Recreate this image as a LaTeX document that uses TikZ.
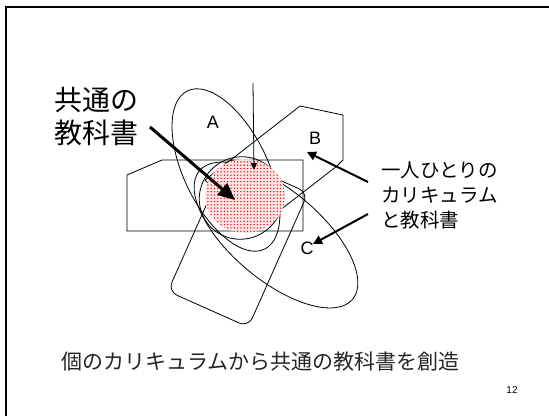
\documentclass[tikz,border=0pt]{standalone}
\usepackage{fontspec}
\setmainfont{Liberation Sans}
\newfontfamily\jp{Noto Sans CJK JP}
\usetikzlibrary{patterns,arrows.meta}
\pgfdeclarepatternformonly{reddots}{\pgfqpoint{-1pt}{-1pt}}{\pgfqpoint{1pt}{1pt}}{\pgfqpoint{3.3pt}{3.3pt}}%
  {\pgfpathcircle{\pgfqpoint{0pt}{0pt}}{.75pt}\pgfusepath{fill}}
\tikzstyle{outline}=[draw, line width=.8pt]
\tikzstyle{lbl}=[draw=none, inner sep=0pt, font=\fontsize{18}{18}\selectfont]
\tikzstyle{jlbl}=[draw=none, inner sep=0pt, align=left]
\tikzstyle{pointer}=[line width=2pt, -{Triangle[length=9pt,width=9pt]}]

\begin{document}
\begin{tikzpicture}[x=1pt, y=-1pt]
\useasboundingbox (0,0) rectangle (549,416);
\draw[line width=2pt] (6,416) -- (6,7) -- (549,7);

% the curricula
\draw[outline, rotate around={-64:(226,170)}] (226,170) ellipse (88 and 42);
\draw[outline, rotate around={-40:(276,235)}] (276,235) ellipse (100 and 45);
\draw[outline] (127,175) -- (162,160) -- (303,160) -- (303,231) -- (127,231) -- cycle;
\draw[outline] (300,106) -- (343,115) -- (343,160) -- (337,166) -- (253,231) -- (205,180) -- cycle;
\node[outline, rounded corners=10pt, minimum width=88pt, minimum height=147pt, rotate=-24] (slab) at (238,242) {};
\draw[outline, rotate around={30:(241,198)}] (241,198) ellipse (42 and 41);

% common core
\fill[red!10] (245,196) ellipse (40 and 37);
\fill[pattern=reddots, pattern color=red] (245,196) ellipse (40 and 37);

\foreach \n/\x/\y in {A/213/122, B/315/138, C/307/248}
  \node[lbl] (lab\n) at (\x,\y) {\n};

\node[jlbl, font=\jp\fontsize{28}{33}\selectfont] (common) at (96,117) {共通の\\教科書};
\node[jlbl, font=\jp\fontsize{19.5}{25}\selectfont, anchor=west] (each) at (381,195) {一人ひとりの\\カリキュラム\\と教科書};
\node[jlbl, font=\jp\fontsize{21}{21}\selectfont, text=black!85, anchor=west] (caption) at (61,362) {個のカリキュラムから共通の教科書を創造};
\node[lbl, font=\fontsize{10}{10}\selectfont] (page) at (512,390) {12};

% arrows
\coordinate (cfrom) at (150,127);
\coordinate (cto) at (235,200);
\draw[line width=3pt, -{Triangle[length=17pt,width=15pt]}] (cfrom) -- (cto);
\coordinate (e1) at (368,182);
\coordinate (e2) at (368,214);
\coordinate (tb) at (307,152);
\coordinate (tc) at (313,244);
\foreach \f/\t in {e1/tb, e2/tc}
  \draw[pointer] (\f) -- (\t);
\coordinate (top) at (253,83);
\coordinate (tv) at (254,170);
\draw[line width=.8pt, -{Triangle[length=7pt,width=6pt]}] (top) -- (tv);
\end{tikzpicture}
\end{document}
